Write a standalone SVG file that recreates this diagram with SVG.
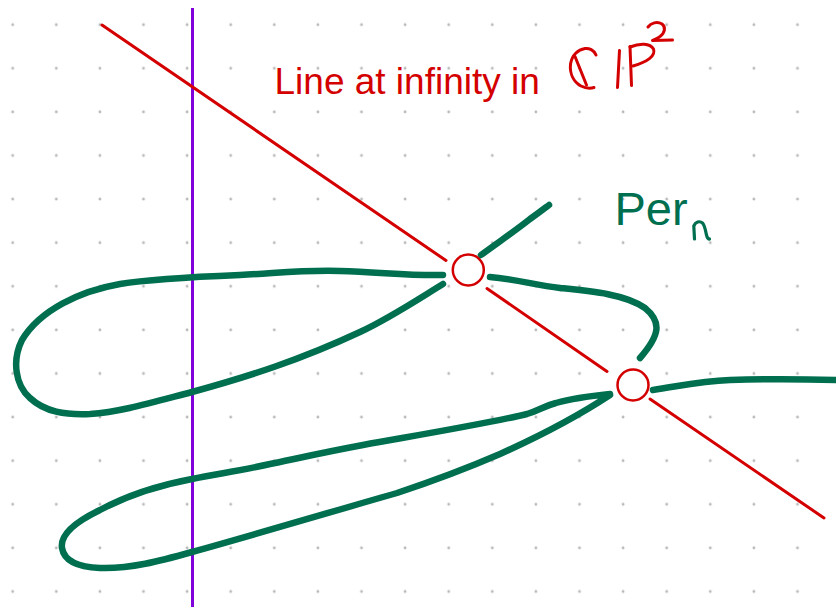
<svg xmlns="http://www.w3.org/2000/svg" width="836" height="609" viewBox="0 0 836 609">
<style>
.grn{fill:none;stroke:#006f4f;stroke-width:6.5;stroke-linecap:round;stroke-linejoin:round}
.red{fill:none;stroke:#d40000;stroke-width:3;stroke-linecap:round}
.hand{fill:none;stroke:#d40000;stroke-width:3;stroke-linecap:round;stroke-linejoin:round}
.pt{fill:#fff;stroke:#d40000;stroke-width:2.5}
.lbl{font-family:"Liberation Sans",Arial,sans-serif}
</style>
<defs>
<pattern id="dots" x="-9.1" y="2.9" width="43.6" height="43.6" patternUnits="userSpaceOnUse">
<circle cx="21.8" cy="21.8" r="1.4" fill="#b8b8b8"/>
</pattern>
</defs>
<rect width="836" height="609" fill="#fff"/>
<rect width="836" height="609" fill="url(#dots)"/>
<g id="vertical-line">
<line x1="192.5" y1="8" x2="192.5" y2="607" stroke="#8000dc" stroke-width="3"/>
</g>
<g id="connectors">
<line class="red" x1="102" y1="25" x2="446" y2="260.5"/>
<line class="red" x1="487" y1="288.5" x2="607" y2="371.5"/>
<line class="red" x1="650" y1="399" x2="824" y2="518"/>
</g>
<g id="curve-per">
<path class="grn" d="M481,255 C500,241 515,231 530,219 C540,212 545,208 549,205"/>
<path class="grn" d="M443,275 C410,276 380,272 340,271 C300,270 280,273 240,275 C190,277 150,279 120,284 C80,291 40,310 22,340 C12,360 15,385 30,398 C45,412 65,415 90,414 C120,412 150,403 192,392 C250,376 300,360 360,332 C390,318 420,298 443,284"/>
<path class="grn" d="M490,277 C515,279 535,285 560,288 C590,291 625,294 645,308 C662,322 660,335 640,358"/>
<path class="grn" d="M653,390 C680,386 700,381 730,380 C760,379 800,379 836,380"/>
<path class="grn" d="M610,394 C590,396 570,399 556,403 C544,406 540,410 527,414 C490,423 430,433 363,445 C320,453 290,460 270,464 C240,471 215,474 192,479 C160,485 130,494 100,510 C75,522 60,535 62,548 C64,560 75,567 100,568 C130,569 160,561 192,552 C250,536 320,515 397,493 C430,482 470,467 500,454 C540,436 575,418 610,395"/>
</g>
<g id="point-1">
<circle class="pt" cx="468.3" cy="270" r="15.5"/>
</g>
<g id="point-2">
<circle class="pt" cx="633" cy="385" r="15.5"/>
</g>
<g id="label-line">
<text class="lbl" x="274.5" y="94" font-size="37" fill="#d40000">Line at infinity in</text>
<path class="hand" d="M596,55 C594,50 589,48 585,48.5 C578,49.5 572,55 570.5,64 C569.5,74 574,82 581,86 C586,88.5 591,88.5 594,87.5"/>
<path class="hand" d="M575,56.5 L586.5,85"/>
<path class="hand" d="M619.5,50.5 L617.5,87.5"/>
<path class="hand" d="M630,46.5 L631.5,85.5"/>
<path class="hand" d="M630,47 C640,43 650,43 653.5,49 C656,56 647,62 633,66"/>
<path class="hand" d="M648,27 C651,23 657,21 662,24 C666,27 665,33 660,36.5 C656,39 654,40 652.5,40.5 L672.5,40"/>
</g>
<g id="label-per">
<text class="lbl" x="614.5" y="225" font-size="47" fill="#006f4f">Per</text>
<path d="M694.5,239 L693.8,226 C695.5,222 699.5,220.5 702.5,223 C705,226 705.5,231 706.5,235 C707.3,238 708.3,239.5 709.5,239" fill="none" stroke="#006f4f" stroke-width="3.2" stroke-linecap="round" stroke-linejoin="round"/>
</g>
</svg>
